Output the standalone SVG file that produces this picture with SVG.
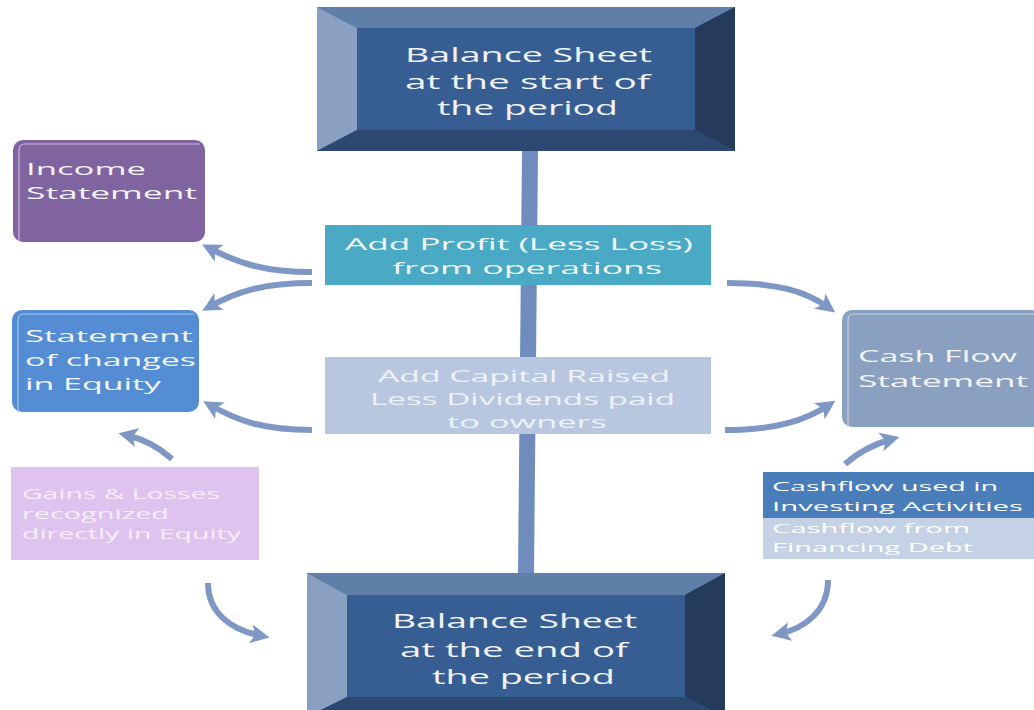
<svg xmlns="http://www.w3.org/2000/svg" width="1034" height="710" viewBox="0 0 1034 710">
<defs>
<style>
text{font-family:"Open Sans","DejaVu Sans",sans-serif;}
.bt{fill:#f2f2f4;font-size:20px;}
.lt{fill:#f4f4f6;font-size:17px;}
.pt{fill:#f3f6f8;font-size:17px;}
.ct{fill:#eef2fa;font-size:16px;}
.gt{fill:#f6eefb;font-size:14px;}
.ft{fill:#ffffff;font-size:13px;}
.arr{fill:none;stroke:#7f97c4;stroke-width:6;marker-end:url(#ah);}
</style>
<marker id="ah" viewBox="0 0 10 10" refX="6" refY="5" markerWidth="3.2" markerHeight="3.2" orient="auto" markerUnits="strokeWidth">
<path d="M0,0 L10,5 L0,10 L2.5,5 z" fill="#7f97c4"/>
</marker>
</defs>
<rect width="1034" height="710" fill="#ffffff"/>
<g id="connectors">
<path d="M530,151 L526,574" stroke="#6f8cbd" stroke-width="16" fill="none"/>
<path class="arr" d="M312,272 C262,272 236,262 209,248"/>
<path class="arr" d="M312,283 C262,283 236,292 209,307"/>
<path class="arr" d="M312,430 C262,430 236,420 210,405"/>
<path class="arr" d="M172,459 Q152,441 126,435"/>
<path class="arr" d="M208,583 C208,612 230,630 262,636"/>
<path class="arr" d="M727,283 C777,283 806,291 829,308"/>
<path class="arr" d="M725,430 C777,430 806,420 829,405"/>
<path class="arr" d="M845,464 Q866,446 892,439"/>
<path class="arr" d="M828,580 C828,610 806,628 779,634"/>
</g>
<g id="bs-start">
<rect x="317" y="7" width="418" height="144" fill="#375e92"/>
<polygon points="317,7 735,7 695,28 357,28" fill="#5f7fa9"/>
<polygon points="317,7 357,28 357,130 317,151" fill="#8aa0c2"/>
<polygon points="735,7 735,151 695,130 695,28" fill="#253b5c"/>
<polygon points="317,151 357,130 695,130 735,151" fill="#2d4870"/>
<text class="bt" x="405" y="62" textLength="247" lengthAdjust="spacingAndGlyphs">Balance Sheet</text>
<text class="bt" x="405" y="89" textLength="245" lengthAdjust="spacingAndGlyphs">at the start of</text>
<text class="bt" x="437" y="115" textLength="181" lengthAdjust="spacingAndGlyphs">the period</text>
</g>
<g id="bs-end">
<rect x="307" y="573" width="418" height="144" fill="#375e92"/>
<polygon points="307,573 725,573 685,595 347,595" fill="#5f7fa9"/>
<polygon points="307,573 347,595 347,697 307,717" fill="#8aa0c2"/>
<polygon points="725,573 725,717 685,697 685,595" fill="#253b5c"/>
<polygon points="307,717 347,697 685,697 725,717" fill="#2d4870"/>
<text class="bt" x="392" y="628" textLength="245" lengthAdjust="spacingAndGlyphs">Balance Sheet</text>
<text class="bt" x="400" y="657" textLength="228" lengthAdjust="spacingAndGlyphs">at the end of</text>
<text class="bt" x="432" y="684" textLength="183" lengthAdjust="spacingAndGlyphs">the period</text>
</g>
<g id="profit">
<rect x="325" y="225" width="386" height="60" fill="#4aa9c5"/>
<text class="pt" x="345" y="250" textLength="348" lengthAdjust="spacingAndGlyphs">Add Profit (Less Loss)</text>
<text class="pt" x="392" y="274" textLength="270" lengthAdjust="spacingAndGlyphs">from  operations</text>
</g>
<g id="capital">
<rect x="325" y="357" width="386" height="77" fill="#b9c6e0"/>
<text class="ct" x="378" y="382" textLength="292" lengthAdjust="spacingAndGlyphs">Add Capital Raised</text>
<text class="ct" x="370" y="405" textLength="305" lengthAdjust="spacingAndGlyphs">Less Dividends paid</text>
<text class="ct" x="447" y="428" textLength="160" lengthAdjust="spacingAndGlyphs">to owners</text>
</g>
<g id="income">
<rect x="13" y="140" width="192" height="102" rx="10" fill="#8064a0"/>
<path d="M19,242 L19,150 Q19,144 25,144 L200,144" fill="none" stroke="#c8b8dc" stroke-width="1.2"/>
<text class="lt" x="26" y="175" textLength="120" lengthAdjust="spacingAndGlyphs">Income</text>
<text class="lt" x="26" y="199" textLength="171" lengthAdjust="spacingAndGlyphs">Statement</text>
</g>
<g id="equity">
<rect x="12" y="310" width="187" height="102" rx="10" fill="#548dd4"/>
<path d="M18,412 L18,320 Q18,314 24,314 L194,314" fill="none" stroke="#a8c6ee" stroke-width="1.2"/>
<text class="lt" x="25" y="342" textLength="168" lengthAdjust="spacingAndGlyphs">Statement</text>
<text class="lt" x="25" y="366" textLength="171" lengthAdjust="spacingAndGlyphs">of changes</text>
<text class="lt" x="25" y="390" textLength="136" lengthAdjust="spacingAndGlyphs">in Equity</text>
</g>
<g id="cashflow">
<rect x="842" y="310" width="200" height="117" rx="10" fill="#8aa0c0"/>
<path d="M848,427 L848,320 Q848,314 854,314 L1034,314" fill="none" stroke="#c6d2e4" stroke-width="1.2"/>
<text class="lt" x="858" y="362" textLength="159" lengthAdjust="spacingAndGlyphs">Cash Flow</text>
<text class="lt" x="858" y="387" textLength="170" lengthAdjust="spacingAndGlyphs">Statement</text>
</g>
<g id="gains">
<rect x="11" y="467" width="248" height="93" fill="#dfc3ef"/>
<text class="gt" x="22" y="499" textLength="198" lengthAdjust="spacingAndGlyphs">Gains &amp; Losses</text>
<text class="gt" x="22" y="519" textLength="147" lengthAdjust="spacingAndGlyphs">recognized</text>
<text class="gt" x="22" y="539" textLength="219" lengthAdjust="spacingAndGlyphs">directly in Equity</text>
</g>
<g id="cash-items">
<rect x="763" y="472" width="271" height="46" fill="#4a7ebb"/>
<rect x="763" y="518" width="271" height="41" fill="#c5d2e6"/>
<text class="ft" x="772" y="491" textLength="226" lengthAdjust="spacingAndGlyphs">Cashflow used in</text>
<text class="ft" x="772" y="511" textLength="251" lengthAdjust="spacingAndGlyphs">Investing Activities</text>
<text class="ft" x="772" y="533" textLength="198" lengthAdjust="spacingAndGlyphs" fill="#f2f5fa">Cashflow from</text>
<text class="ft" x="772" y="552" textLength="201" lengthAdjust="spacingAndGlyphs" fill="#f2f5fa">Financing Debt</text>
</g>
</svg>
